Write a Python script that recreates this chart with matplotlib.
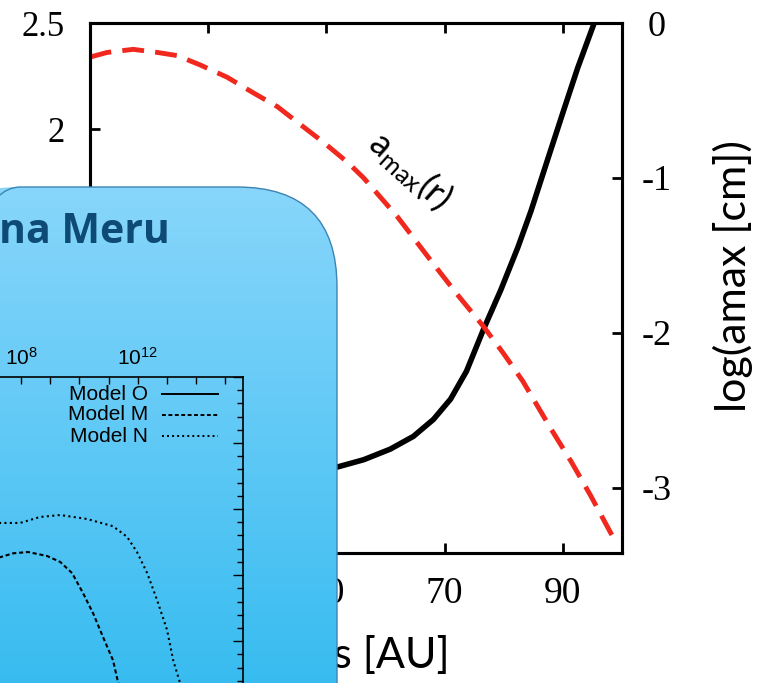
import numpy as np
import matplotlib
matplotlib.use("Agg")
import matplotlib.pyplot as plt
from matplotlib.patches import FancyBboxPatch
from matplotlib.colors import LinearSegmentedColormap
from matplotlib.ticker import FixedLocator, MultipleLocator, FuncFormatter

plt.rcParams['axes.unicode_minus'] = False

# main chart (slide background): radius in AU
red_r = [10.0, 12.9, 17.3, 21.4, 24.7, 28.6, 33.2, 37.6, 41.7, 46.1, 49.5, 53.6,
         56.3, 62.0, 67.6, 72.2, 76.6, 80.0, 83.2, 88.0, 91.4, 94.7, 99.0]
red_log_amax = [-0.22, -0.19, -0.17, -0.19, -0.21, -0.27, -0.35, -0.45, -0.54, -0.67, -0.77, -0.90,
                -1.00, -1.25, -1.53, -1.755, -1.96, -2.135, -2.31, -2.62, -2.83, -3.05, -3.355]

black_r = [37.0, 45.6, 51.9, 56.3, 60.8, 64.7, 68.1, 71.0, 73.7, 76.6, 79.5, 82.4,
           84.6, 87.5, 90.2, 92.5, 95.3]
black_val = [0.34, 0.37, 0.406, 0.44, 0.49, 0.55, 0.63, 0.726, 0.858, 1.057, 1.241, 1.443,
             1.613, 1.863, 2.094, 2.288, 2.50]

x_ticks = [10, 30, 50, 70, 90]
left_ticks = [0, 0.5, 1, 1.5, 2, 2.5]
right_ticks = [-3, -2, -1, 0]

# inset chart (on the blue box), x given as log10
model_m_logx = [5.91, 7.28, 7.73, 8.24, 8.89, 9.34, 9.75, 10.12, 10.47, 10.81, 11.15, 11.32, 11.56]
model_m_y = [-0.86, -0.73, -0.67, -0.65, -0.71, -0.80, -0.97, -1.27, -1.58, -1.94, -2.29, -2.62, -3.05]
model_n_logx = [5.91, 7.28, 7.97, 8.65, 9.34, 10.26, 11.15, 11.63, 11.97, 12.32, 12.66, 13.00, 13.21, 13.45, 13.79]
model_n_y = [-0.27, -0.21, -0.21, -0.12, -0.09, -0.15, -0.26, -0.42, -0.65, -0.97, -1.38, -1.83, -2.29, -2.64, -3.20]
inset_labelled = [8, 12]
legend_names = ["Model O", "Model M", "Model N"]

W, H = 769, 683
fig = plt.figure(figsize=(W / 100, H / 100), dpi=100)

serif = "Liberation Serif"
calibri = "Lato"

# --- main chart ---
ax = fig.add_axes([90 / W, (H - 553) / H, 532 / W, 530 / H])
ax.plot(black_r, black_val, color="black", lw=4, solid_capstyle="butt",
        solid_joinstyle="round", zorder=2)
ax.set_xlim(10, 100)
ax.set_ylim(0, 2.5)
ax.xaxis.set_major_locator(FixedLocator(x_ticks))
ax.yaxis.set_major_locator(FixedLocator(left_ticks))
ax.yaxis.set_major_formatter(FuncFormatter(lambda v, p: f"{v:g}"))
ax.tick_params(axis="x", direction="in", length=7, width=2, top=True, pad=17,
               labelsize=27)
ax.tick_params(axis="y", direction="in", length=7, width=2, pad=18, labelsize=25)
for s in ax.spines.values():
    s.set_linewidth(2.2)
for lbl in ax.get_xticklabels() + ax.get_yticklabels():
    lbl.set_family(serif)

ax2 = ax.twinx()
ax2.plot(red_r, red_log_amax, color="#f0281e", lw=3.5, dashes=(4.5, 2.3))
ax2.set_ylim(-3.42, 0)
ax2.yaxis.set_major_locator(FixedLocator(right_ticks))
ax2.tick_params(axis="y", direction="in", length=7, width=2, pad=25, labelsize=26)
for lbl in ax2.get_yticklabels():
    lbl.set_family(serif)
    lbl.set_ha("center")
for s in ax2.spines.values():
    s.set_linewidth(2.2)
ax2.text(64.2, -0.95, r"$\mathregular{a_{max}(r)}$", rotation=-42, ha="center", va="center",
         rotation_mode="anchor", fontsize=26, family=calibri)

fig.text(450 / W, 1 - 668 / H, "radius [AU]", ha="right", va="baseline",
         fontsize=31, family=calibri)
fig.text(733 / W, 1 - 276 / H, "log(amax [cm])", rotation=90, ha="center", va="center",
         fontsize=31, family=calibri)

# --- blue rounded box overlay, pixel coordinates ---
ov = fig.add_axes([0, 0, 1, 1], zorder=5)
box = FancyBboxPatch((-80, 187), 337 + 80, 800, boxstyle="round,pad=0,rounding_size=100",
                     fc="none", ec="#3b84b3", lw=1.0, zorder=3)
ov.add_patch(box)
cmap = LinearSegmentedColormap.from_list("box", ["#88d6fb", "#60c9f6", "#38bcf0"])
im = ov.imshow(np.linspace(0, 1, 256)[:, None], cmap=cmap, aspect="auto",
               extent=(-80, 340, H, 187), zorder=1)
im.set_clip_path(box)
ov.set_xlim(0, W)
ov.set_ylim(H, 0)
ov.axis("off")
ov.text(170, 243, "na Meru", ha="right", va="baseline", fontsize=29.5,
        fontweight="bold", color="#0d4a75", family="Open Sans", zorder=4)

# legend of the inset (gnuplot style: text right aligned, sample after)
leg_styles = [dict(ls="-"), dict(dashes=(2.0, 1.3)), dict(dashes=(1.0, 1.6))]
for i, (name, st) in enumerate(zip(legend_names, leg_styles)):
    yy = 394 + 21 * i
    ov.text(148, yy, name, ha="right", va="center", fontsize=15,
            family="Liberation Sans", zorder=4)
    ov.plot([162, 218], [yy, yy], color="black", lw=1.4, zorder=4, **st)

# --- inset chart ---
axi = fig.add_axes([-300 / W, (H - 900) / H, 543 / W, 523 / H], zorder=10)
axi.set_facecolor("none")
axi.plot(10 ** np.array(model_m_logx), model_m_y, color="black", lw=1.5, dashes=(2.0, 1.3))
axi.plot(10 ** np.array(model_n_logx), model_n_y, color="black", lw=1.5, dashes=(1.0, 1.6))
axi.set_xscale("log")
axi.set_xlim(10 ** -2.99, 10 ** 15.6)
axi.set_ylim(-5.92, 2)
axi.xaxis.set_major_locator(FixedLocator([10.0 ** k for k in inset_labelled]))
axi.xaxis.set_minor_locator(FixedLocator([10.0 ** k for k in range(-2, 16)]))
axi.xaxis.set_major_formatter(FuncFormatter(lambda v, p: r"$\mathregular{10^{%d}}$" % round(np.log10(v))))
axi.xaxis.set_minor_formatter(FuncFormatter(lambda v, p: ""))
axi.yaxis.set_major_locator(MultipleLocator(1))
axi.yaxis.set_minor_locator(MultipleLocator(0.2))
axi.tick_params(axis="x", which="both", direction="in", length=5, width=1, top=True,
                labeltop=True, labelbottom=False, pad=6, labelsize=15)
axi.tick_params(axis="y", which="major", direction="in", length=7, width=1, right=True, labelleft=False)
axi.tick_params(axis="y", which="minor", direction="in", length=4, width=1, right=True)
for lbl in axi.get_xticklabels():
    lbl.set_family("Liberation Sans")
for s in axi.spines.values():
    s.set_linewidth(1.2)

fig.savefig("out.png", dpi=100)
